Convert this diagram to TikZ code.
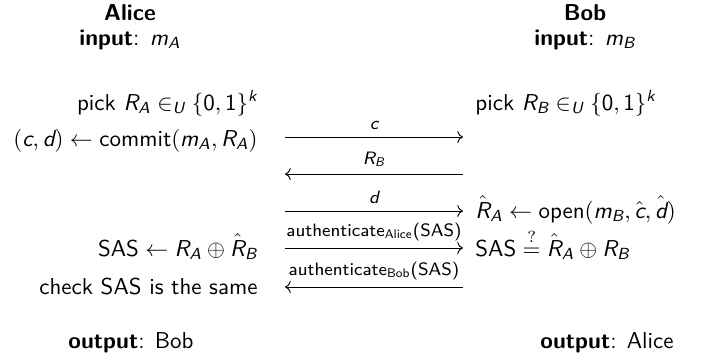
\documentclass[tikz,border=0pt]{standalone}
\usepackage{amsmath}
\usetikzlibrary{arrows.meta}
\newcommand{\mv}[1]{\textit{#1}}
\newcommand{\tx}[1]{\textup{#1}}
\tikzset{
  lbl/.style={inner sep=0pt, font=\sffamily},
  lft/.style={lbl, anchor=base east},
  rgt/.style={lbl, anchor=base west},
  mid/.style={lbl, anchor=base},
  msg/.style={-{To}, line width=0.4pt},
  msgl/.style={{To}-, line width=0.4pt},
  smalltag/.style={lbl, above=3pt, font=\sffamily\fontsize{7.8}{9}\selectfont}
}
\begin{document}
\begin{tikzpicture}[x=0.4352pt, y=-0.4352pt]
\useasboundingbox (0,0) rectangle (701,355);
% headers
\node[mid] (alice) at (130,20) {\textbf{Alice}};
\node[mid] (ainp) at (130,45) {\textbf{input}: $\mv{m}_{\mv{A}}$};
\node[mid] (bob) at (585,20) {\textbf{Bob}};
\node[mid] (binp) at (585,45) {\textbf{input}: $\mv{m}_{\mv{B}}$};
% Alice column
\node[lft] (a1) at (258,110) {pick $\mv{R}_{\mv{A}} \in_{\mv{U}} \{\tx{0},\tx{1}\}^{\mv{k}}$};
\node[lft] (a2) at (258,146) {$(\mv{c},\mv{d}) \leftarrow \tx{commit}(\mv{m}_{\mv{A}}, \mv{R}_{\mv{A}})$};
\node[lft] (a3) at (258,256) {$\tx{SAS} \leftarrow \mv{R}_{\mv{A}} \oplus \hat{\mv{R}}_{\mv{B}}$};
\node[lft] (a4) at (258,294) {check SAS is the same};
% Bob column
\node[rgt] (b1) at (475,110) {pick $\mv{R}_{\mv{B}} \in_{\mv{U}} \{\tx{0},\tx{1}\}^{\mv{k}}$};
\node[rgt] (b2) at (475,218) {$\hat{\mv{R}}_{\mv{A}} \leftarrow \tx{open}(\mv{m}_{\mv{B}}, \hat{\mv{c}}, \hat{\mv{d}})$};
\node[rgt] (b3) at (475,256) {$\tx{SAS} \overset{?}{=} \hat{\mv{R}}_{\mv{A}} \oplus \mv{R}_{\mv{B}}$};
% outputs
\node[mid] (aout) at (131,348) {\textbf{output}: Bob};
\node[mid] (bout) at (607,348) {\textbf{output}: Alice};
% message endpoints
\coordinate (m1l) at (285,137); \coordinate (m1r) at (463,137);
\coordinate (m2l) at (285,174); \coordinate (m2r) at (463,174);
\coordinate (m3l) at (285,211); \coordinate (m3r) at (463,211);
\coordinate (m4l) at (285,248); \coordinate (m4r) at (463,248);
\coordinate (m5l) at (285,287); \coordinate (m5r) at (463,287);
\draw[msg] (m1l) -- (m1r) node[smalltag, midway] {\itshape c};
\draw[msgl] (m2l) -- (m2r) node[smalltag, midway] {$\mv{R}_{\mv{B}}$};
\draw[msg] (m3l) -- (m3r) node[smalltag, midway] {\itshape d};
\draw[msg] (m4l) -- (m4r) node[smalltag, midway] {authenticate\textsubscript{Alice}(SAS)};
\draw[msgl] (m5l) -- (m5r) node[smalltag, midway] {authenticate\textsubscript{Bob}(SAS)};
\end{tikzpicture}
\end{document}
